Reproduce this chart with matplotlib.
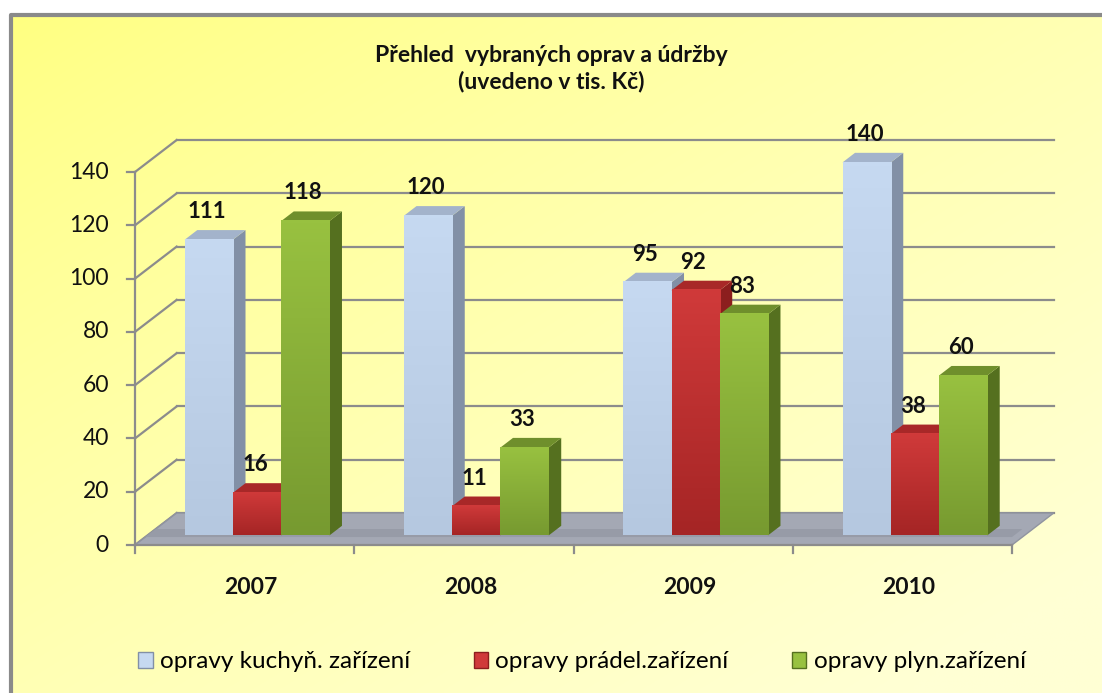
import numpy as np
import matplotlib
matplotlib.use("Agg")
import matplotlib.pyplot as plt
from matplotlib.patches import Polygon, Patch

plt.rcParams['font.family'] = ['Lato', 'DejaVu Sans']

# data
years = ["2007", "2008", "2009", "2010"]
kuchyn = [111, 120, 95, 140]
pradel = [16, 11, 92, 38]
plyn = [118, 33, 83, 60]
series_names = ["opravy kuchyň. zařízení", "opravy prádel.zařízení", "opravy plyn.zařízení"]
yticks = [0, 20, 40, 60, 80, 100, 120, 140]

series = [kuchyn, pradel, plyn]
front_cols = ["#c6d9f1", "#d03a3a", "#98c140"]
dark_cols = ["#b5c8e0", "#a52525", "#779a30"]
side_cols = ["#8290a6", "#8c1e1e", "#55701f"]
top_cols = ["#a3b3cb", "#a82828", "#6f8f2c"]

W, H = 1102, 693
fig = plt.figure(figsize=(W / 100, H / 100), dpi=100)

# background with yellow gradient and grey frame
bg = fig.add_axes([0, 0, 1, 1])
bg.set_xlim(0, W)
bg.set_ylim(H, 0)
bg.axis("off")
xx, yy = np.meshgrid(np.linspace(0, 1, 200), np.linspace(0, 1, 130))
t = np.clip(0.55 * xx + 0.55 * yy, 0, 1) ** 0.8
img = np.zeros((130, 200, 3))
img[..., 0] = 1.0
img[..., 1] = 1.0
img[..., 2] = (128 + (212 - 128) * t) / 255
bg.imshow(img, extent=[11, W, H, 15], aspect="auto", interpolation="bilinear")
bg.plot([10.5, 10.5, W], [H, 14.5, 14.5], color="#8a8a8a", lw=3, solid_capstyle="butt")

# main axes = front plane of the 3D box
x0, x1 = 135, 1012
yb, yt = 545, 172
ax = fig.add_axes([x0 / W, (H - yb) / H, (x1 - x0) / W, (yb - yt) / H])
ax.set_xlim(-0.5, 3.5)
ax.set_ylim(0, 140)
ax.axis("off")

DX, DY = 0.19, 12.0   # depth offset in data units
d0, d1 = 0.30, 0.60
grid_col = "#8c8c8c"

# back wall gridlines + left wall diagonals
for v in yticks:
    ax.plot([-0.5 + DX, 3.5 + DX], [v + DY, v + DY], color=grid_col, lw=1.6, clip_on=False, zorder=1)
    ax.plot([-0.5, -0.5 + DX], [v, v + DY], color=grid_col, lw=1.6, clip_on=False, zorder=1)
    ax.plot([-0.5 - 0.037, -0.5], [v, v], color=grid_col, lw=1.6, clip_on=False, zorder=1)
    ax.text(-0.5 - 0.119, v, str(v), ha="right", va="center", fontsize=16.5, color="#111111")
ax.plot([-0.5, -0.5], [0, 140], color=grid_col, lw=1.6, clip_on=False, zorder=1)

# floor
floor = Polygon([(-0.5, 0), (3.5, 0), (3.5 + DX, DY), (-0.5 + DX, DY)], closed=True,
                facecolor="#a4a8b4", edgecolor="#9094a0", lw=1, clip_on=False, zorder=2)
ax.add_patch(floor)
ax.add_patch(Polygon([(-0.5 + DX * 0.25, DY * 0.25), (3.5, DY * 0.25), (3.5 + DX * 0.25, DY * 0.5)
                      , (-0.5 + DX * 0.5, DY * 0.5)], closed=True, facecolor="#979ba7",
                     edgecolor="none", clip_on=False, zorder=2))
ax.plot([-0.5, 3.5], [0, 0], color=grid_col, lw=1.6, clip_on=False, zorder=3)
for b in range(5):
    ax.plot([b - 0.5, b - 0.5], [0, -3], color=grid_col, lw=1.6, clip_on=False, zorder=3)

# bars
bw = 0.22
z = 4
grad = np.linspace(0, 1, 100).reshape(-1, 1)
for i in range(len(years)):
    for j, vals in enumerate(series):
        v = vals[i]
        xl = i - 0.33 + j * bw + d0 * DX
        xr = xl + bw
        yb0 = d0 * DY
        ddx = (d1 - d0) * DX
        ddy = (d1 - d0) * DY
        side = Polygon([(xr, yb0), (xr + ddx, yb0 + ddy), (xr + ddx, yb0 + ddy + v), (xr, yb0 + v)],
                       closed=True, facecolor=side_cols[j], edgecolor="none", clip_on=False, zorder=z)
        top = Polygon([(xl, yb0 + v), (xr, yb0 + v), (xr + ddx, yb0 + v + ddy), (xl + ddx, yb0 + v + ddy)],
                      closed=True, facecolor=top_cols[j], edgecolor="none", clip_on=False, zorder=z)
        ax.add_patch(side)
        ax.add_patch(top)
        bar = ax.bar(xl, v, width=bw, bottom=yb0, align="edge", color=front_cols[j],
                     edgecolor="none", zorder=z + 0.5, clip_on=False)[0]
        cmap = matplotlib.colors.LinearSegmentedColormap.from_list("g", [dark_cols[j], front_cols[j]])
        im = ax.imshow(grad, extent=[xl, xr, yb0, yb0 + v], origin="lower", cmap=cmap,
                       aspect="auto", zorder=z + 0.6, clip_on=False)
        im.set_clip_path(bar)
        ax.text((xl + xr) / 2 - 0.01, yb0 + v + ddy + 3, str(v), ha="center", va="bottom",
                fontsize=16, fontweight="bold", color="#111111", zorder=30)
        z += 1
    ax.text(i + 0.03, -15.8, years[i], ha="center", va="center", fontsize=16.5,
            fontweight="bold", color="#111111")

# title
fig.text(551 / W, 1 - 69 / H, "Přehled  vybraných oprav a údržby\n(uvedeno v tis. Kč)",
         ha="center", va="center", fontsize=16.5, fontweight="bold", linespacing=1.25, color="#111111")

# legend
handles = [Patch(facecolor=front_cols[j], edgecolor=side_cols[j], label=series_names[j]) for j in range(3)]
fig.legend(handles=handles, loc="center", bbox_to_anchor=(582 / W, 31 / H), ncol=3, frameon=False,
           fontsize=17.5, handlelength=0.6, handleheight=0.6, handletextpad=0.3, columnspacing=2.6)

fig.savefig("out.png", dpi=100)
